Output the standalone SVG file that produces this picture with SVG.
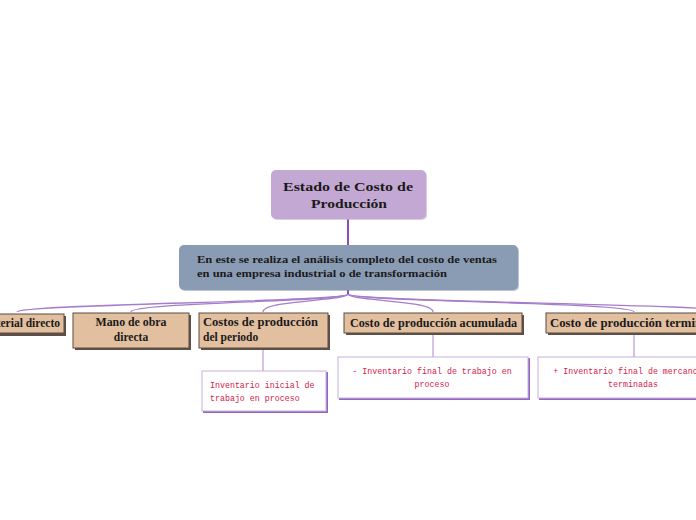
<svg xmlns="http://www.w3.org/2000/svg" width="696" height="520" viewBox="0 0 696 520">
<style>
.title{font-family:"Liberation Serif","DejaVu Serif",serif;font-weight:bold;fill:#1a1a1a}
.sub{font-family:"Liberation Serif","DejaVu Serif",serif;font-weight:bold;fill:#1a1a1a;font-size:10.8px}
.ch{font-family:"Liberation Serif","DejaVu Serif",serif;font-weight:bold;fill:#1a1a1a;font-size:11.5px}
.leaf{font-family:"Liberation Mono","DejaVu Sans Mono",monospace;fill:#d4214c;font-size:8.3px}
.cbox{fill:#e2bf9f;stroke:#5b4c40;stroke-width:1}
.cshadow{fill:#5e5048}
.lbox{fill:#ffffff;stroke:#c6b2dc;stroke-width:1}
.lshadow{fill:#9466c2}
.conn{fill:none;stroke:#a57dcb;stroke-width:1.3}
.lconn{fill:none;stroke:#d6c4e6;stroke-width:2}
</style>
<rect width="696" height="520" fill="#ffffff"/>
<g id="connectors">
  <line x1="348" y1="219" x2="348" y2="246" stroke="#8a4fb8" stroke-width="2"/>
  <line x1="348" y1="290" x2="348" y2="295" stroke="#8a4fb8" stroke-width="2"/>
  <path class="conn" d="M348,294 C348,302 17,304 17,312"/>
  <path class="conn" d="M348,294 C348,302 131,302 131,312"/>
  <path class="conn" d="M348,294 C348,301 263,300 263,312"/>
  <path class="conn" d="M348,294 C348,301 433,300 433,312"/>
  <path class="conn" d="M348,294 C348,302 634,302 634,312"/>
  <path class="conn" d="M348,294 C348,302 720,304 740,312"/>
  <line class="lconn" x1="263" y1="348" x2="263" y2="372"/>
  <line class="lconn" x1="433" y1="333" x2="433" y2="357"/>
  <line class="lconn" x1="634" y1="333" x2="634" y2="357"/>
</g>
<g id="root">
  <rect x="272" y="171" width="155" height="49" rx="5" fill="#b79ac8" opacity="0.5"/>
  <rect x="271" y="170" width="155" height="49" rx="5" fill="#c3a8d4"/>
  <text class="title" x="348" y="191" font-size="13.5" text-anchor="middle" textLength="130" lengthAdjust="spacingAndGlyphs">Estado de Costo de</text>
  <text class="title" x="349" y="208" font-size="13.5" text-anchor="middle" textLength="76" lengthAdjust="spacingAndGlyphs">Producción</text>
</g>
<g id="summary">
  <rect x="180" y="246" width="339" height="45" rx="5" fill="#7d8ca3" opacity="0.5"/>
  <rect x="179" y="245" width="339" height="45" rx="5" fill="#8a9cb4"/>
  <text class="sub" x="197" y="263" textLength="300" lengthAdjust="spacingAndGlyphs">En este se realiza el análisis completo del costo de ventas</text>
  <text class="sub" x="197" y="277" textLength="250" lengthAdjust="spacingAndGlyphs">en una empresa industrial o de transformación</text>
</g>
<g id="material">
  <rect class="cshadow" x="-38" y="316" width="104" height="20"/>
  <rect class="cbox" x="-40" y="314" width="104" height="19"/>
  <text class="ch" x="60" y="327" text-anchor="end">Material directo</text>
</g>
<g id="mano">
  <rect class="cshadow" x="75" y="315" width="116" height="35"/>
  <rect class="cbox" x="73" y="313" width="116" height="35"/>
  <text class="ch" x="131" y="326" text-anchor="middle" textLength="71" lengthAdjust="spacingAndGlyphs">Mano de obra</text>
  <text class="ch" x="131" y="341" text-anchor="middle">directa</text>
</g>
<g id="costos">
  <rect class="cshadow" x="201" y="315" width="129" height="35"/>
  <rect class="cbox" x="199" y="313" width="129" height="35"/>
  <text class="ch" x="203" y="326" textLength="115" lengthAdjust="spacingAndGlyphs">Costos de producción</text>
  <text class="ch" x="203" y="341">del periodo</text>
</g>
<g id="acumulada">
  <rect class="cshadow" x="346" y="315" width="178" height="20"/>
  <rect class="cbox" x="344" y="313" width="178" height="20"/>
  <text class="ch" x="350" y="327" textLength="167" lengthAdjust="spacingAndGlyphs">Costo de producción acumulada</text>
</g>
<g id="terminada">
  <rect class="cshadow" x="548" y="315" width="180" height="20"/>
  <rect class="cbox" x="546" y="313" width="180" height="20"/>
  <text class="ch" x="550" y="327" textLength="172" lengthAdjust="spacingAndGlyphs">Costo de producción terminada</text>
</g>
<g id="leaf-inicial">
  <rect class="lshadow" x="203" y="372" width="125" height="41"/>
  <rect class="lbox" x="202" y="371" width="124" height="40"/>
  <text class="leaf" x="210" y="388">Inventario inicial de</text>
  <text class="leaf" x="210" y="401">trabajo en proceso</text>
</g>
<g id="leaf-final-proceso">
  <rect class="lshadow" x="339" y="358" width="191" height="42"/>
  <rect class="lbox" x="338" y="357" width="190" height="41"/>
  <text class="leaf" x="432" y="374" text-anchor="middle">- Inventario final de trabajo en</text>
  <text class="leaf" x="432" y="387" text-anchor="middle">proceso</text>
</g>
<g id="leaf-final-mercancias">
  <rect class="lshadow" x="539" y="358" width="191" height="42"/>
  <rect class="lbox" x="538" y="357" width="190" height="41"/>
  <text class="leaf" x="633" y="374" text-anchor="middle">+ Inventario final de mercancías</text>
  <text class="leaf" x="633" y="387" text-anchor="middle">terminadas</text>
</g>
</svg>
